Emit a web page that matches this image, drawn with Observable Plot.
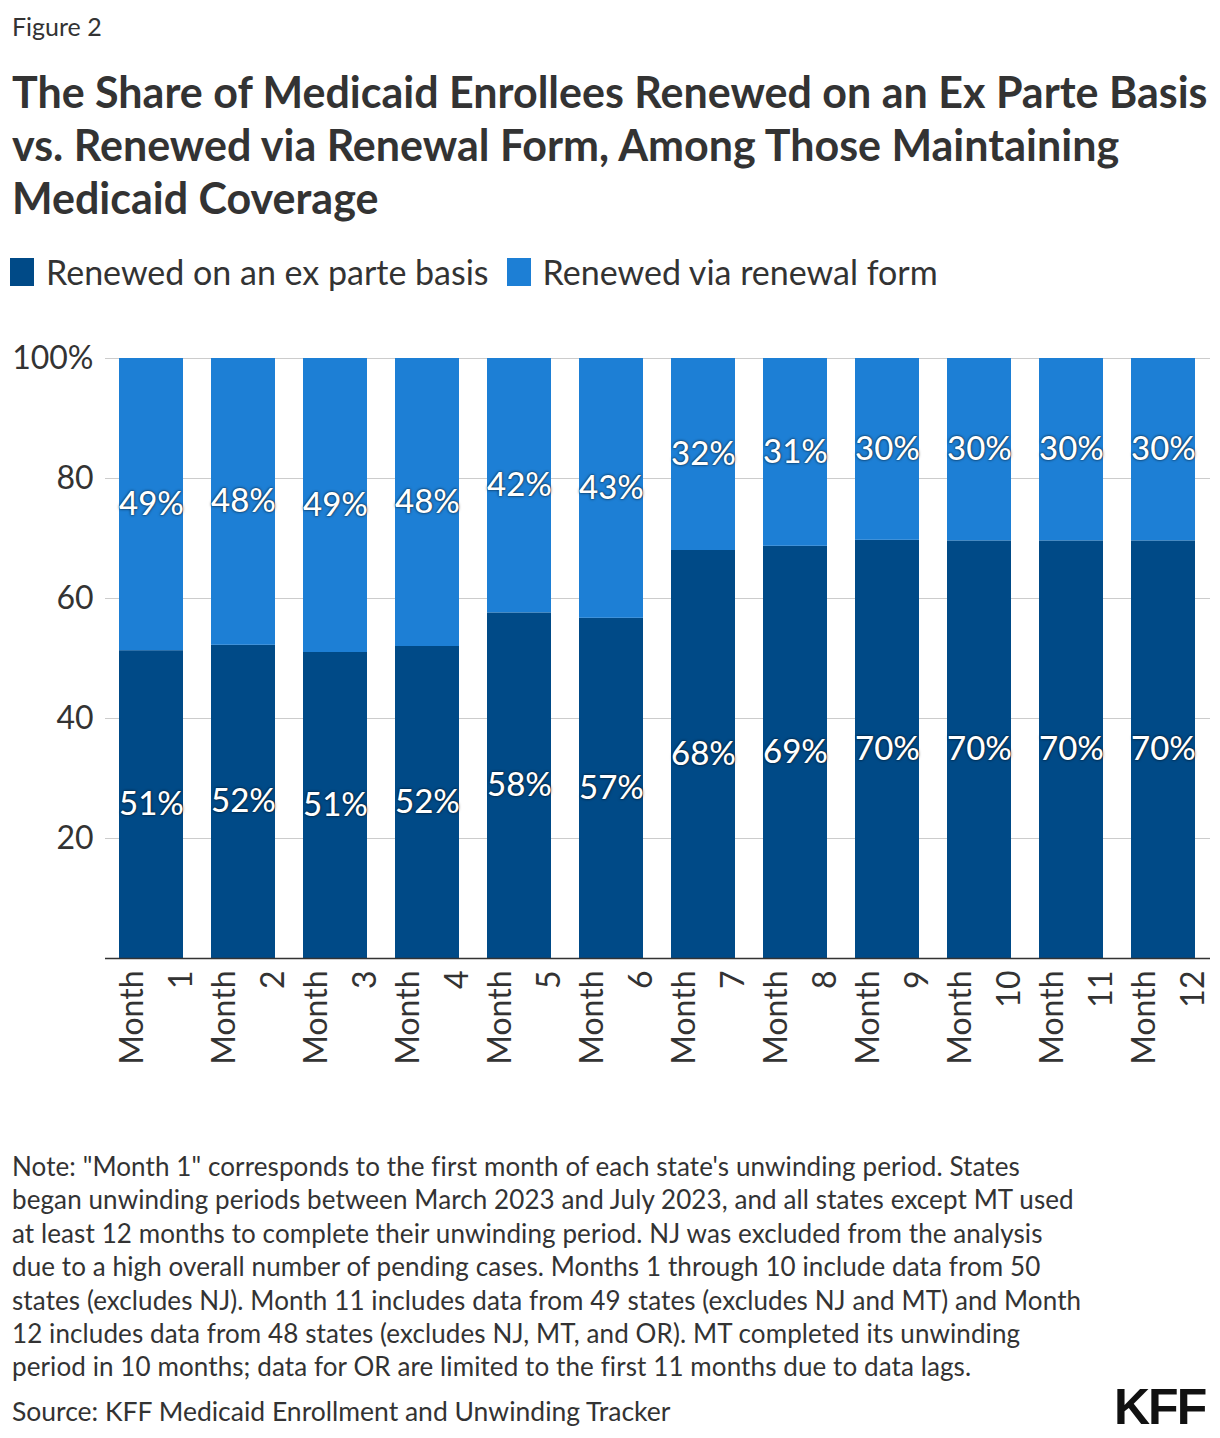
<!DOCTYPE html>
<html>
<head>
<meta charset="utf-8">
<script src="https://cdn.jsdelivr.net/npm/d3@7"></script>
<script src="https://cdn.jsdelivr.net/npm/@observablehq/plot@0.6"></script>
<style>
  html, body { margin: 0; padding: 0; background: #fff; }
  body { width: 1220px; height: 1438px; position: relative; font-family: Lato, "Noto Sans", sans-serif; color: #333; overflow: hidden; }
  .abs { position: absolute; white-space: nowrap; }
  #fig { left: 12px; top: 11px; font-size: 25px; line-height: 30px; color: #333; }
  #title { left: 12px; top: 65px; font-size: 43px; line-height: 53px; font-weight: 700; color: #333; }
  #legend { left: 10px; top: 252px; font-size: 34px; line-height: 40px; display: flex; align-items: center; }
  .sw { display: inline-block; width: 24px; height: 28px; margin-right: 12px; }
  .li { display: flex; align-items: center; margin-right: 18px; }
  #chart { left: 0; top: 330px; }
  #note { left: 12px; top: 1150px; font-size: 26px; line-height: 33.4px; color: #333; letter-spacing: 0.1px; }
  #source { left: 12px; top: 1395px; font-size: 26.5px; line-height: 33px; color: #333; }
  #logo { left: 1114px; top: 1378px; font-family: "Liberation Sans", Arial, sans-serif; font-weight: 700; font-size: 50px; line-height: 58px; color: #111; letter-spacing: -2px; }
  .lbl text { text-shadow: 0 0 3px rgba(0,0,0,0.75), 0 0 1px rgba(0,0,0,0.5); }
</style>
</head>
<body>
<div id="fig" class="abs">Figure 2</div>
<div id="title" class="abs">The Share of Medicaid Enrollees Renewed on an Ex Parte Basis<br>vs. Renewed via Renewal Form, Among Those Maintaining<br>Medicaid Coverage</div>
<div id="legend" class="abs"></div>
<div id="chart" class="abs"></div>
<div id="note" class="abs">Note: "Month 1" corresponds to the first month of each state's unwinding period. States<br>began unwinding periods between March 2023 and July 2023, and all states except MT used<br>at least 12 months to complete their unwinding period. NJ was excluded from the analysis<br>due to a high overall number of pending cases. Months 1 through 10 include data from 50<br>states (excludes NJ). Month 11 includes data from 49 states (excludes NJ and MT) and Month<br>12 includes data from 48 states (excludes NJ, MT, and OR). MT completed its unwinding<br>period in 10 months; data for OR are limited to the first 11 months due to data lags.</div>
<div id="source" class="abs">Source: KFF Medicaid Enrollment and Unwinding Tracker</div>
<div id="logo" class="abs">KFF</div>
<script>
const months = ["Month 1","Month 2","Month 3","Month 4","Month 5","Month 6","Month 7","Month 8","Month 9","Month 10","Month 11","Month 12"];
const seriesNames = ["Renewed on an ex parte basis", "Renewed via renewal form"];
const seriesColors = ["#004a87", "#1d7fd5"];
const exParte = [51.3, 52.2, 51.0, 52.0, 57.6, 56.7, 68.0, 68.7, 69.7, 69.6, 69.6, 69.6];
const renewalForm = [48.7, 47.8, 49.0, 48.0, 42.4, 43.3, 32.0, 31.3, 30.3, 30.4, 30.4, 30.4];
const yTicks = [20, 40, 60, 80, 100];

const rows = [];
months.forEach((m, i) => {
  rows.push({month: m, series: seriesNames[0], value: exParte[i]});
  rows.push({month: m, series: seriesNames[1], value: renewalForm[i]});
});

// legend
const leg = document.getElementById("legend");
seriesNames.forEach((s, i) => {
  const it = document.createElement("span");
  it.className = "li";
  const sw = document.createElement("span");
  sw.className = "sw";
  sw.style.background = seriesColors[i];
  it.appendChild(sw);
  it.appendChild(document.createTextNode(s));
  leg.appendChild(it);
});

const chart = Plot.plot({
  width: 1220,
  height: 760,
  marginTop: 28,
  marginBottom: 132,
  marginLeft: 105,
  marginRight: 10,
  style: {fontFamily: "Lato, 'Noto Sans', sans-serif", fontSize: "32px", color: "#333", background: "#fff"},
  x: {domain: months, paddingInner: 0.3, paddingOuter: 0.15, label: null},
  y: {domain: [0, 100], label: null},
  color: {domain: seriesNames, range: seriesColors},
  marks: [
    Plot.gridY(yTicks, {stroke: "#cccccc", strokeOpacity: 1, strokeWidth: 1}),
    Plot.barY(rows, {x: "month", y: "value", fill: "series"}),
    Plot.axisY(yTicks, {tickSize: 0, tickPadding: 12, fontSize: 32, fill: "#333", tickFormat: d => d === 100 ? "100%" : String(d), label: null}),
    Plot.axisX({tickSize: 0, tickPadding: 12, tickRotate: -90, fontSize: 32, fill: "#333", tickFormat: d => d.replace(" ", "\n"), lineHeight: 1.55, label: null}),
    Plot.ruleY([0], {stroke: "#333", strokeWidth: 1.5}),
    Plot.text(rows, Plot.stackY({x: "month", y: "value", z: "series", text: d => Math.round(d.value) + "%", fill: "white", fontSize: 33, fontWeight: 500, className: "lbl"}))
  ]
});
document.getElementById("chart").appendChild(chart);
</script>
</body>
</html>
